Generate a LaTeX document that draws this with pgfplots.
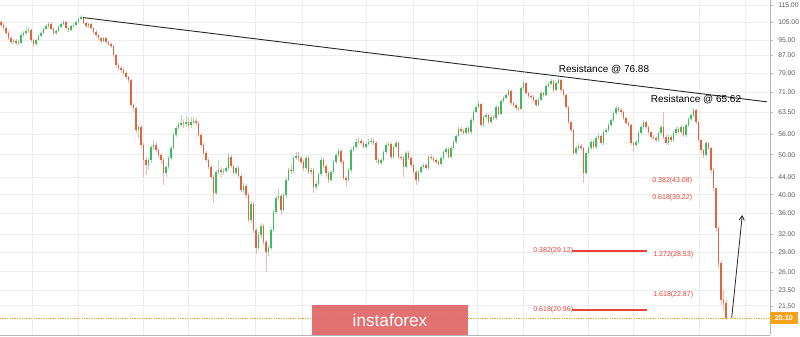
\documentclass[border=0pt]{standalone}
\usepackage{pgfplots}
\pgfplotsset{compat=1.18}
\usepackage{pgfplotstable}
\usepackage{fontspec}
\setmainfont{Liberation Sans}
\usetikzlibrary{arrows.meta,calc}
\definecolor{upc}{HTML}{3DBB5E}
\definecolor{dnc}{HTML}{E2643E}
\definecolor{upw}{HTML}{A9DDB5}
\definecolor{dnw}{HTML}{F0B8A8}
\definecolor{fibc}{HTML}{E8403A}
\definecolor{gridc}{HTML}{EDEDED}
\definecolor{axc}{HTML}{B5B5B5}
\definecolor{lastc}{HTML}{F5A21E}
\definecolor{wmc}{HTML}{E06A6A}

\pgfplotstableread{
x o h l c
1 105.0 106.2 102.1 103.2
3.5 103.2 104.4 100.4 101.5
6 101.5 102.6 97.6 98.7
8.5 98.7 99.8 94.9 96.0
11 96.0 97.1 92.8 93.9
13.5 93.9 95.4 92.8 94.4
16 94.4 95.4 92.3 93.3
18.5 93.3 94.9 92.3 93.9
21 93.3 98.7 92.8 97.6
23.5 97.6 99.8 96.5 98.7
26 98.7 101.5 97.6 99.8
28.5 99.8 102.1 98.7 100.4
31 100.4 101.5 93.9 94.9
33.5 94.9 95.4 91.3 92.8
36 92.8 95.4 91.8 94.9
38.5 94.9 98.2 94.4 97.1
41 97.1 99.8 96.5 98.7
43.5 98.7 101.5 98.2 100.9
46 100.9 103.8 100.4 102.6
48.5 102.6 105.0 101.5 103.8
51 103.8 105.0 100.4 100.9
53.5 100.9 102.1 97.6 98.7
56 98.7 100.9 97.6 99.8
58.5 99.8 103.2 99.3 102.1
61 102.1 104.4 101.5 103.8
63.5 103.8 106.2 103.2 105.0
66 105.0 105.6 100.9 101.5
68.5 101.5 102.1 99.3 100.4
71 100.4 103.2 99.8 102.6
73.5 102.6 104.4 102.1 103.2
76 103.2 105.6 102.6 105.0
78.5 105.0 107.4 104.4 106.8
81 106.8 109.2 106.2 108.0
83.5 107.4 108.0 103.8 104.4
86 104.4 105.0 101.5 102.6
88.5 102.6 104.4 101.5 103.8
91 103.8 104.4 100.4 101.5
93.5 101.5 102.1 98.2 99.3
96 99.3 100.4 96.5 97.6
98.5 97.6 98.2 94.9 96.0
101 96.0 96.5 93.3 94.4
103.5 94.4 96.5 93.9 96.0
106 96.0 96.5 92.8 93.9
108.5 93.9 94.4 91.8 92.8
111 92.8 93.3 90.8 91.8
113.5 91.8 92.3 86.3 87.3
116 87.3 87.8 81.7 82.6
118.5 82.6 83.5 80.3 81.2
121 81.2 82.1 79.0 80.3
123.5 80.3 81.2 78.1 79.0
126 79.0 79.9 76.4 77.2
128.5 77.2 77.7 74.7 75.9
131 75.9 76.4 65.3 66.0
133.5 66.0 66.8 63.9 64.9
136 64.9 65.3 56.4 57.4
138.5 57.4 59.0 54.9 58.4
141 58.4 59.0 51.9 52.8
143.5 52.8 53.4 44.1 48.5
146 48.5 49.4 44.6 47.2
148.5 47.2 49.1 45.9 48.5
151 48.5 52.8 47.7 52.2
153.5 52.2 54.3 51.3 52.8
156 52.8 53.7 50.5 51.3
158.5 51.3 51.9 49.1 49.9
161 49.9 50.5 47.5 48.5
163.5 48.5 49.1 42.2 45.1
166 45.1 47.2 44.1 46.7
168.5 46.7 49.6 46.2 49.1
171 49.1 52.5 48.5 51.9
173.5 51.9 56.4 51.3 55.8
176 55.8 58.7 55.2 58.0
178.5 58.0 60.0 57.4 59.0
181 59.0 62.4 58.4 59.7
183.5 59.7 61.1 58.0 59.4
186 59.4 62.1 58.4 60.0
188.5 60.0 61.4 57.7 59.0
191 59.0 61.7 58.0 60.0
193.5 60.0 61.7 59.0 60.4
196 60.4 61.4 58.7 59.7
198.5 59.7 60.4 55.2 55.8
201 55.8 56.4 52.2 52.8
203.5 52.8 53.4 49.9 50.5
206 50.5 51.0 48.0 48.5
208.5 48.5 49.1 46.2 46.7
211 46.7 47.2 43.6 44.1
213.5 44.1 44.6 38.2 40.4
216 40.4 45.9 39.9 45.4
218.5 45.4 48.5 44.9 45.9
221 45.9 46.7 44.1 45.4
223.5 45.4 46.4 44.6 45.6
226 45.6 46.9 45.1 46.4
228.5 46.4 50.5 45.9 49.4
231 49.4 49.9 46.4 46.9
233.5 46.9 47.5 44.6 45.1
236 45.1 46.9 44.6 46.4
238.5 46.4 46.9 43.9 44.4
241 44.4 44.9 40.6 41.1
243.5 41.1 42.7 40.4 42.0
246 42.0 42.4 39.3 39.9
248.5 39.9 40.4 34.3 34.7
251 34.7 38.6 34.2 38.0
253.5 38.0 38.4 32.3 32.8
256 32.8 33.2 28.7 29.7
258.5 29.7 32.5 29.4 31.9
261 31.9 34.2 31.4 33.6
263.5 33.6 34.0 30.2 30.7
266 30.7 31.1 26.0 29.0
268.5 29.0 30.2 28.4 29.7
271 29.7 33.2 29.4 32.8
273.5 32.8 36.7 32.5 36.3
276 36.3 39.7 35.9 39.3
278.5 39.3 41.5 38.6 39.7
281 39.7 40.2 35.7 36.7
283.5 36.7 40.4 36.3 39.9
286 39.9 43.9 39.3 43.4
288.5 43.4 46.4 43.2 45.9
291 45.9 47.5 44.9 45.6
293.5 45.6 49.6 45.1 49.1
296 49.1 50.8 48.5 49.6
298.5 49.6 50.8 48.3 49.1
301 49.1 49.6 47.5 48.0
303.5 48.0 48.5 45.6 46.4
306 46.4 49.6 45.9 49.1
308.5 49.1 49.6 44.9 45.4
311 45.4 46.4 44.6 45.9
313.5 45.9 46.4 40.4 41.7
316 41.7 43.2 41.1 42.4
318.5 42.4 45.4 41.9 44.9
321 44.9 49.4 44.4 48.5
323.5 48.5 49.1 46.4 46.9
326 46.9 47.5 44.1 45.1
328.5 45.1 45.6 42.7 43.4
331 43.4 45.9 42.9 45.4
333.5 45.4 48.5 44.9 48.0
336 48.0 50.5 47.5 49.9
338.5 49.9 51.9 49.4 51.0
341 51.0 51.6 47.5 48.0
343.5 48.0 48.5 43.4 43.9
346 43.9 44.4 41.7 43.4
348.5 43.4 46.4 42.9 45.9
351 45.9 51.9 45.4 51.3
353.5 51.3 52.8 50.8 52.2
356 52.2 54.6 51.6 53.7
358.5 53.7 55.2 53.1 54.0
361 54.0 54.6 52.8 53.4
363.5 53.4 54.0 51.6 52.2
366 52.2 53.7 51.6 53.1
368.5 53.1 54.6 52.5 53.7
371 53.7 54.9 53.1 54.0
373.5 54.0 54.6 52.8 53.4
376 53.4 54.0 47.7 48.5
378.5 48.5 49.1 47.2 47.7
381 47.7 49.1 47.2 48.5
383.5 48.5 51.3 48.0 50.8
386 50.8 53.4 50.2 52.8
388.5 52.8 53.7 52.2 53.1
391 53.1 53.7 48.8 49.4
393.5 49.4 52.8 48.8 52.2
396 52.2 54.0 51.9 53.4
398.5 53.4 54.0 48.8 49.4
401 49.4 49.9 48.5 49.1
403.5 49.1 49.6 44.1 46.7
406 46.7 51.0 46.2 50.5
408.5 50.5 51.0 48.5 49.1
411 49.1 49.6 46.7 47.2
413.5 47.2 47.7 44.9 45.4
416 45.4 45.9 42.2 43.4
418.5 43.4 45.9 42.9 45.4
421 45.4 47.2 44.9 46.7
423.5 46.7 47.7 46.2 47.2
426 47.2 47.7 45.9 46.4
428.5 46.4 49.9 45.9 49.4
431 49.4 50.2 48.5 49.1
433.5 49.1 49.6 48.0 48.5
436 48.5 49.1 47.5 48.0
438.5 48.0 48.5 46.9 47.5
441 47.5 49.6 46.9 49.1
443.5 49.1 51.3 48.5 50.8
446 50.8 52.2 50.2 51.6
448.5 51.6 52.2 48.8 49.4
451 49.4 52.5 48.8 51.9
453.5 51.9 54.3 51.3 53.7
456 53.7 56.1 53.1 55.5
458.5 55.5 58.4 55.2 57.7
461 57.7 58.4 56.4 57.1
463.5 57.1 57.7 55.8 56.4
466 56.4 58.7 55.8 58.0
468.5 58.0 58.7 56.1 56.8
471 56.8 61.4 56.1 60.7
473.5 60.7 64.2 60.0 63.5
476 63.5 66.0 63.2 65.3
478.5 65.3 67.5 64.9 66.4
481 66.4 66.8 58.4 59.0
483.5 59.0 62.4 58.4 61.7
486 61.7 63.2 61.1 62.4
488.5 62.4 62.8 59.4 60.0
491 60.0 62.4 59.4 61.7
493.5 61.7 62.4 60.7 61.4
496 61.4 66.0 60.7 65.3
498.5 65.3 65.7 62.1 62.8
501 62.8 68.3 62.4 67.5
503.5 67.5 69.4 66.8 68.7
506 68.7 70.6 68.3 69.8
508.5 69.8 72.2 69.4 71.4
511 71.4 71.8 66.0 66.8
513.5 66.8 67.2 65.3 66.0
516 66.0 66.4 64.2 64.9
518.5 64.9 65.3 63.9 64.6
521 64.6 73.4 64.2 72.6
523.5 72.6 75.5 72.2 74.7
526 74.7 75.1 69.8 70.6
528.5 70.6 71.0 68.7 69.4
531 69.4 70.2 68.3 69.1
533.5 69.1 69.8 67.2 67.9
536 67.9 68.3 65.3 66.0
538.5 66.0 68.7 65.7 67.9
541 67.9 71.4 67.5 70.6
543.5 70.6 71.0 69.1 69.8
546 69.8 74.3 69.4 73.4
548.5 73.4 75.1 73.0 74.3
551 74.3 76.4 73.8 75.5
553.5 75.5 75.9 71.0 71.8
556 71.8 75.5 71.4 74.7
558.5 74.7 76.8 74.3 75.9
561 75.9 76.4 71.0 71.8
563.5 71.8 72.2 69.1 69.8
566 69.8 70.2 64.6 65.3
568.5 65.3 65.7 59.4 60.0
571 60.0 60.4 56.8 57.4
573.5 57.4 57.7 49.9 50.5
576 50.5 52.5 49.9 51.9
578.5 51.9 53.4 51.3 52.5
581 52.5 53.1 51.3 51.9
583.5 51.9 52.2 42.7 45.1
586 45.1 51.0 44.6 50.5
588.5 50.5 52.5 49.9 51.9
591 51.9 54.3 51.3 53.7
593.5 53.7 54.3 51.6 52.2
596 52.2 55.5 51.6 54.9
598.5 54.9 56.4 54.3 55.5
601 55.5 56.1 52.8 53.4
603.5 53.4 57.4 52.8 56.8
606 56.8 58.0 56.1 57.4
608.5 57.4 59.7 56.8 59.0
611 59.0 61.4 58.4 60.7
613.5 60.7 63.9 60.0 63.2
616 63.2 65.7 62.4 64.9
618.5 64.9 65.7 63.5 64.2
621 64.2 64.9 62.8 63.5
623.5 63.5 63.9 60.7 61.4
626 61.4 61.7 59.0 59.7
628.5 59.7 60.0 58.4 59.0
631 59.0 59.4 52.8 53.4
633.5 53.4 53.7 50.8 52.8
636 52.8 54.3 52.2 53.7
638.5 53.7 57.1 53.1 56.4
641 56.4 59.0 55.8 58.4
643.5 58.4 60.7 57.7 60.0
646 60.0 60.4 57.7 58.4
648.5 58.4 58.7 56.1 56.8
651 56.8 57.1 54.6 55.2
653.5 55.2 55.8 54.3 54.9
656 54.9 55.5 53.7 54.3
658.5 54.3 57.1 53.7 56.4
661 56.4 59.0 55.8 58.4
663.5 58.4 63.5 54.6 55.2
666 55.2 55.8 52.8 53.4
668.5 53.4 55.8 52.8 55.2
671 55.2 55.8 53.7 54.3
673.5 54.3 57.1 53.7 56.4
676 56.4 58.4 55.8 57.7
678.5 57.7 58.4 56.1 56.8
681 56.8 59.0 56.1 58.4
683.5 58.4 58.7 55.2 55.8
686 55.8 59.7 55.2 59.0
688.5 59.0 61.7 58.4 61.1
691 61.1 63.2 60.4 62.4
693.5 62.4 64.9 61.7 64.2
696 64.2 64.6 59.4 60.0
698.5 60.0 60.4 53.7 54.3
701 54.3 54.6 50.5 51.3
703.5 51.3 51.6 49.1 49.9
706 49.9 54.0 49.4 53.4
708.5 53.4 53.7 51.3 51.9
711 51.9 52.2 45.1 45.9
713.5 45.9 46.4 40.8 41.5
716 41.5 41.7 32.5 33.2
718.5 33.2 33.6 26.6 27.3
721 27.3 27.6 21.6 22.2
723.5 22.2 23.5 21.0 21.9
726 21.9 22.2 19.9 20.1
}\ohlc

\begin{document}
\begin{tikzpicture}
\begin{axis}[
  scale only axis,
  width=385pt, height=167.5pt,
  at={(0pt,1pt)}, anchor=south west,
  xmin=0, xmax=770,
  ymode=log, ymin=18.27, ymax=118.7,
  axis x line*=bottom, axis y line*=right,
  axis line style={draw=axc, line width=0.4pt},
  xtick={32,78,143,188,255,302,366,413,477,523,588,633,699,745},
  xticklabels={},
  xtick style={draw=none},
  ytick={21.5,23.5,26,29,32,36,40,44,50,56,63.5,71,79,87,95,105,115},
  yticklabels={21.50,23.50,26.00,29.00,32.00,36.00,40.00,44.00,50.00,56.00,63.50,71.00,79.00,87.00,95.00,105.00,115.00},
  yminorticks=false,
  minor ytick={},
  ytick style={draw=axc, line width=0.3pt},
  tick align=outside,
  major tick length=1.6pt,
  yticklabel style={font=\fontsize{3.4}{4}\selectfont, text=black!65, anchor=west, xshift=-1pt},
  grid=major,
  major grid style={draw=gridc, line width=0.35pt},
  clip=true,
]
% wicks
\addplot[draw=none, mark=none, forget plot, error bars/.cd, y dir=plus, y explicit, error mark=none,
  error bar style={line width=0.3pt, color=upw}]
  table[x expr={\thisrow{c}>=\thisrow{o} ? \thisrow{x} : nan}, y=l, y error plus expr={\thisrow{h}-\thisrow{l}}] {\ohlc};
\addplot[draw=none, mark=none, forget plot, error bars/.cd, y dir=plus, y explicit, error mark=none,
  error bar style={line width=0.3pt, color=dnw}]
  table[x expr={\thisrow{c}<\thisrow{o} ? \thisrow{x} : nan}, y=l, y error plus expr={\thisrow{h}-\thisrow{l}}] {\ohlc};
% bodies
\addplot[draw=none, mark=none, forget plot, error bars/.cd, y dir=plus, y explicit, error mark=none,
  error bar style={line width=0.85pt, color=upc}]
  table[x expr={\thisrow{c}>=\thisrow{o} ? \thisrow{x} : nan}, y=o, y error plus expr={\thisrow{c}-\thisrow{o}}] {\ohlc};
\addplot[draw=none, mark=none, forget plot, error bars/.cd, y dir=plus, y explicit, error mark=none,
  error bar style={line width=0.85pt, color=dnc}]
  table[x expr={\thisrow{c}<\thisrow{o} ? \thisrow{x} : nan}, y=c, y error plus expr={\thisrow{o}-\thisrow{c}}] {\ohlc};

% last price line
\draw[lastc, line width=0.35pt, dash pattern=on 0.6pt off 0.6pt] (axis cs:0,20.1) -- (axis cs:770,20.1);
% trend line
\draw[black!85, line width=0.45pt] (axis cs:83,107.6) -- (axis cs:767,67.2);
\node[font=\fontsize{5}{6}\selectfont, text=black] at (axis cs:604,80.6) {Resistance @ 76.88};
\node[font=\fontsize{5}{6}\selectfont, text=black] at (axis cs:696,68.0) {Resistance @ 65.62};
% fib levels
\tikzset{fib/.style={font=\fontsize{3.5}{4}\selectfont, text=fibc, anchor=west, inner sep=0pt}}
\node[fib] at (axis cs:652,43.2) {0.382(43.08)};
\node[fib] at (axis cs:652,39.3) {0.618(39.22)};
\node[fib] at (axis cs:653,28.6) {1.272(28.53)};
\node[fib] at (axis cs:653,22.9) {1.618(22.87)};
\node[fib] at (axis cs:533,29.2) {0.382(29.12)};
\node[fib] at (axis cs:533,21.0) {0.618(20.96)};
\draw[draw=fibc, line width=0.55pt] (axis cs:572,29.2) -- (axis cs:647,29.2);
\draw[draw=fibc, line width=0.55pt] (axis cs:572,21.0) -- (axis cs:647,21.0);
% projection arrow
\draw[black!85, line width=0.4pt, -{Straight Barb[length=2.2pt,width=2.6pt]}] (axis cs:731.7,20.1) -- (axis cs:742.3,35.7);
\coordinate (lastp) at (axis cs:770,20.1);
\coordinate (wmA) at (axis cs:312,18.27);
\coordinate (wmB) at (axis cs:468,21.6);
\end{axis}
% watermark
\fill[wmc, opacity=0.95] ([yshift=0.2pt]wmA) rectangle (wmB);
\node[text=white, font=\fontsize{8.6}{9}\selectfont] at ($ (wmA)!0.5!(wmB) $) {instaforex};
% last price tag
\fill[lastc] ([yshift=-3pt]lastp) rectangle ([xshift=14pt,yshift=3pt]lastp);
\node[text=white, font=\fontsize{3.6}{4}\selectfont\bfseries, anchor=west, inner sep=0pt] at ([xshift=2.2pt]lastp) {20.10};
\pgfresetboundingbox
\path[use as bounding box] (0,0) rectangle (400pt,168.5pt);
\end{tikzpicture}
\end{document}
